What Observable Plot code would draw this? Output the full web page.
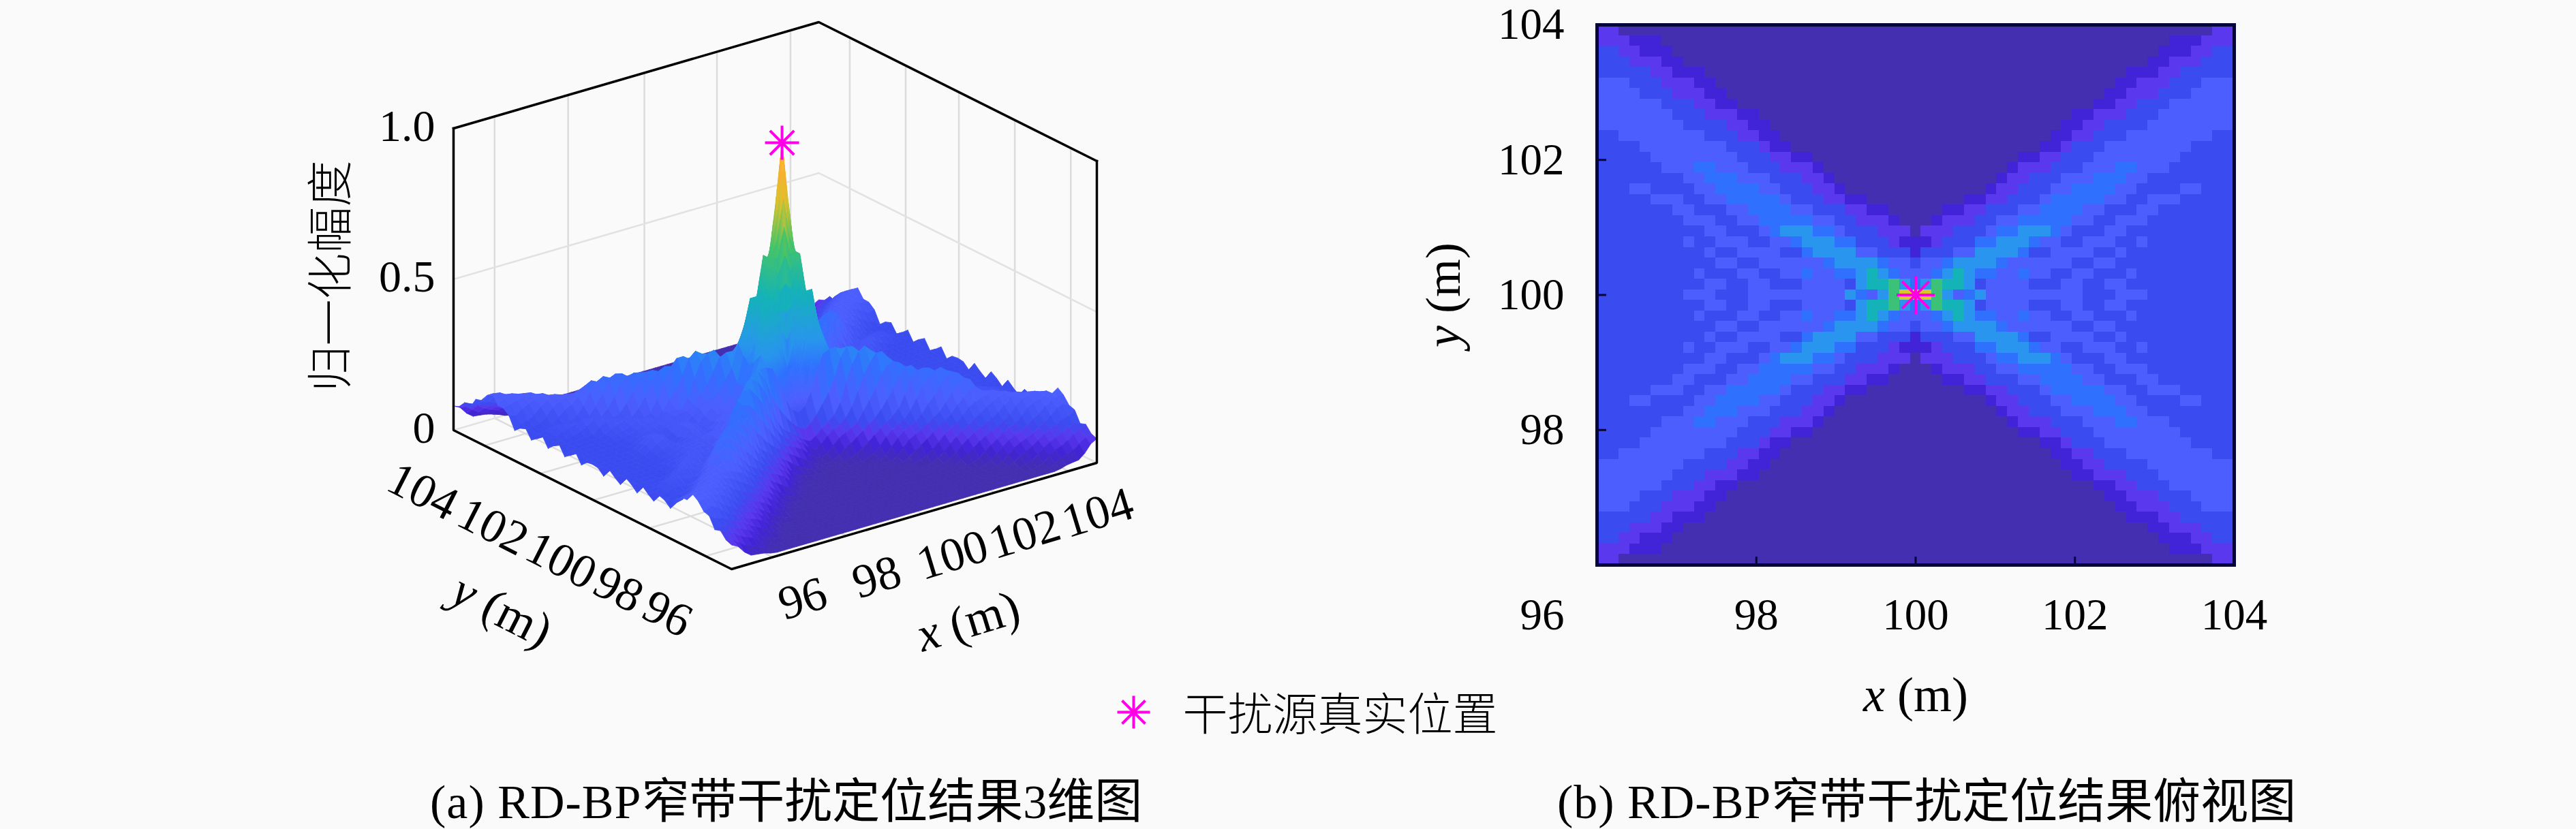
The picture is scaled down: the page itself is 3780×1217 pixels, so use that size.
<!DOCTYPE html>
<html>
<head>
<meta charset="utf-8">
<script src="https://cdn.jsdelivr.net/npm/d3@7"></script>
<script src="https://cdn.jsdelivr.net/npm/@observablehq/plot@0.6"></script>
<style>
  html, body { margin: 0; padding: 0; background: #fafafa; }
  #page { position: relative; width: 3780px; height: 1217px; overflow: hidden; background: #fafafa; }
  #left, #right { position: absolute; top: 0; }
  #left { left: 0; width: 2260px; }
  #right { left: 2060px; width: 1720px; }
  .cap { position: absolute; top: 1138px; white-space: nowrap; color: #000; font: 70px/80px "Liberation Serif", "Noto Sans CJK SC", serif; }
  .cap .lat { letter-spacing: 1px; }
</style>
</head>
<body>
<div id="page">
  <div id="left"></div>
  <div id="right"></div>
  <div class="cap" style="left:631px"><span class="lat">(a) RD-BP</span>窄带干扰定位结果3维图</div>
  <div class="cap" style="left:2285px"><span class="lat">(b) RD-BP</span>窄带干扰定位结果俯视图</div>
</div>
<script>
// Top-left quadrant of the magnitude map (row 0 = y 104, last row = y 100; last column = x 100),
// one character per cell, read from the top view. The map is mirrored about x=100 and y=100.
const quadrantLevels = [
  "220000000000000000000000000000",
  "222111000000000000000000000000",
  "332211100000000000000000000000",
  "333222110000000000000000000000",
  "333332211100000000000000000000",
  "444333222110000000000000000000",
  "444433322211000000000000000000",
  "444444333221100000000000000000",
  "444444433322211000000000000000",
  "444444443333221100000000000000",
  "334444444433322110000000000000",
  "333344444444333211000000000000",
  "333334444444433322110000000000",
  "333333444554443332221000000000",
  "333333334455544433322100000000",
  "333443333445555443332210000000",
  "333334443344555554333221100000",
  "333333344333445555443332211000",
  "333333334443344555554433222100",
  "333333333344333456665543332220",
  "333333334334443344566655333211",
  "333333333343344443356666443331",
  "333333333334433444444566665443",
  "333333333433344334454455676544",
  "333333333344334433344443677865",
  "33333333444333444444444654689A"
];
// height of each level, and the colour shown at that height
const levelHeights = [0.012, 0.05, 0.08, 0.11, 0.17, 0.26, 0.34, 0.5, 0.63, 0.8, 1];
const colorDomain = [0.012, 0.05, 0.08, 0.11, 0.17, 0.26, 0.34, 0.5, 0.66, 0.8, 0.9, 1];
const colorRange = ["#432fb0", "#4123d8", "#5a38ee", "#3a4cf0", "#4d5eff", "#3070ff", "#2a95ee", "#14b3b8", "#45c46a", "#dcc22c", "#fbae32", "#f5c52f"];
// ripple of the surface along the x=96 / x=104 edges, rows y=104 to y=100
const edgeRipple = [0, 0, 0.007, -0.007, 0.014, -0.01, 0, 0.014, -0.014, 0, 0.014, -0.01, 0.007, 0.014, -0.014, 0, 0.017, -0.014, 0.004, 0.017, -0.014, 0, 0.017, -0.014, 0.004, 0.007];

const peakX3d = 100.15;
const xGrid3d = [96.9, 98.51, 100.18, 101.77, 103.38];
const yGrid3d = [103.11, 101.5, 99.97, 98.36, 96.75];
const xTickPos3d = [96.9, 98.52, 100.18, 101.76, 103.36];
const xTickLabels3d = ["96", "98", "100", "102", "104"];
const yTickPos3d = [104, 101.98, 100.02, 98.37, 96.96];
const yTickLabels3d = ["104", "102", "100", "98", "96"];
const zTicks3d = [0, 0.5, 1];
const zTickLabels3d = ["0", "0.5", "1.0"];
const zTitle = "归一化幅度";
const legendLabel = "干扰源真实位置";
const heatTicksX = [98, 100, 102, 104];
const heatTicksY = [98, 100, 102, 104];
const heatInnerTicks = [98, 100, 102];
const xTitle = "x (m)";
const yTitle = "y (m)";

const SERIF = '"Liberation Serif", serif';
const CJK = '"Noto Sans CJK SC", sans-serif';
const MAGENTA = "#ff00e6";

// level grid, mirrored
const NC = 59, NR = 51;
const levelAt = (r, c) => {
  const row = quadrantLevels[r <= 25 ? r : 50 - r];
  return parseInt(row[c <= 29 ? c : 58 - c], 16);
};
const Z = d3.range(NR).map(r => d3.range(NC).map(c => levelHeights[levelAt(r, c)]));

// the surface of the 3D view is shaded from the same map, softened away from the peak
const soften = M => M.map((row, r) => row.map((z, c) => {
  let s = 0, w = 0;
  for (let i = -1; i <= 1; ++i) for (let j = -1; j <= 1; ++j) {
    const rr = r + i, cc = c + j;
    if (rr < 0 || rr >= NR || cc < 0 || cc >= NC) continue;
    const k = (2 - Math.abs(i)) * (2 - Math.abs(j));
    s += M[rr][cc] * k; w += k;
  }
  return s / w;
}));
const Zs = soften(Z);
const Z3 = Zs.map((row, r) => row.map((z, c) => {
  const keep = Math.abs(c - 29) <= 4 && Math.abs(r - 25) <= 1;
  const base = keep ? Z[r][c] : z;
  return (c === 0 || c === NC - 1) ? base + edgeRipple[r <= 25 ? r : 50 - r] : base;
}));

// 8-armed star of the peak marker
const starSymbol = {
  draw(ctx, size) {
    const R = Math.sqrt(size / Math.PI), k = R * Math.SQRT1_2;
    ctx.moveTo(-R, 0); ctx.lineTo(R, 0);
    ctx.moveTo(0, -R); ctx.lineTo(0, R);
    ctx.moveTo(-k, -k); ctx.lineTo(k, k);
    ctx.moveTo(-k, k); ctx.lineTo(k, -k);
  }
};
const colorScale = { type: "linear", domain: colorDomain, range: colorRange };

// ------- 3D view: orthographic projection of (x, y, z)
const px = (x, y) => 1073 + (x - 96) * 67 - (y - 96) * 51;
const py = (x, y, z) => 835 - (x - 96) * 19.5 - (y - 96) * 25.5 - z * 443;
const P = (x, y, z) => ({ X: px(x, y), Y: py(x, y, z) });
const xOf = c => c <= 29 ? 96 + c / 29 * (peakX3d - 96) : peakX3d + (c - 29) / 29 * (104 - peakX3d);
const yOf = r => 104 - r * 8 / 50;

// surface quads, with the steep part around the peak finely shaded; painter's order, far first
const quads = [];
function addQuad(x0, x1, y0, y1, z00, z10, z01, z11) {
  quads.push({
    depth: 0.607 * (x0 + x1) / 2 + 0.795 * (y0 + y1) / 2,
    v: (z00 + z10 + z01 + z11) / 4,
    pts: [P(x0, y0, z00), P(x1, y0, z10), P(x1, y1, z11), P(x0, y1, z01)]
  });
}
for (let r = 0; r < NR - 1; ++r) for (let c = 0; c < NC - 1; ++c) {
  const a = Z3[r][c], b = Z3[r][c + 1], d = Z3[r + 1][c], e = Z3[r + 1][c + 1];
  const x0 = xOf(c), x1 = xOf(c + 1), y0 = yOf(r), y1 = yOf(r + 1);
  const n = (Math.abs(c - 28.5) < 5 && Math.abs(r - 24.5) < 3) ? 8 : 1;
  for (let i = 0; i < n; ++i) for (let j = 0; j < n; ++j) {
    const s0 = i / n, s1 = (i + 1) / n, t0 = j / n, t1 = (j + 1) / n;
    const f = (s, t) => a * (1 - s) * (1 - t) + b * s * (1 - t) + d * (1 - s) * t + e * s * t;
    addQuad(x0 + (x1 - x0) * s0, x0 + (x1 - x0) * s1, y0 + (y1 - y0) * t0, y0 + (y1 - y0) * t1,
      f(s0, t0), f(s1, t0), f(s0, t1), f(s1, t1));
  }
}
quads.sort((p, q) => q.depth - p.depth);
const surfacePts = [];
quads.forEach((q, id) => {
  [...q.pts, q.pts[0]].forEach(p => surfacePts.push({ id, X: p.X, Y: p.Y, v: q.v }));
});

const polyline = (list, opts) => Plot.line(list.map(a => P(...a)), { x: "X", y: "Y", stroke: "#000", strokeWidth: 3.5, strokeLinejoin: "miter", strokeLinecap: "square", ...opts });
const GRID = "#dcdcdc";
const gridMarks = [
  ...xGrid3d.map(x => polyline([[x, 96, 0], [x, 104, 0], [x, 104, 1]], { stroke: GRID, strokeWidth: 2.5 })),
  ...yGrid3d.map(y => polyline([[96, y, 0], [104, y, 0], [104, y, 1]], { stroke: GRID, strokeWidth: 2.5 })),
  polyline([[96, 104, 0.5], [104, 104, 0.5], [104, 96, 0.5]], { stroke: "#e2e2e2", strokeWidth: 2.5 }),
  polyline([[96, 104, 0], [104, 104, 0], [104, 96, 0]], { stroke: "#e2e2e2", strokeWidth: 2.5 })
];

const W1 = 2260, H = 1130;
const left = Plot.plot({
  width: W1, height: H, margin: 0,
  x: { domain: [0, W1], range: [0, W1], axis: null },
  y: { domain: [0, H], range: [0, H], axis: null },
  color: colorScale,
  style: { background: "transparent", maxWidth: "none", fontFamily: SERIF, fontSize: "63px", color: "#000" },
  marks: [
    ...gridMarks,
    polyline([[96, 104, 1], [104, 104, 1], [104, 96, 1]]),
    Plot.line(surfacePts, { x: "X", y: "Y", z: "id", fill: "v", stroke: "v", strokeWidth: 0.8, curve: "linear" }),
    polyline([[96, 104, 1], [96, 104, 0], [96, 96, 0], [104, 96, 0], [104, 96, 1]]),
    Plot.dot([P(peakX3d, 100, 1)], { x: "X", y: "Y", r: 25, symbol: starSymbol, stroke: MAGENTA, strokeWidth: 4, fill: "none" }),
    // x tick labels
    Plot.text(xTickLabels3d, { x: (d, i) => px(xTickPos3d[i], 96) + 44, y: (d, i) => py(xTickPos3d[i], 96, 0) + 61, text: d => d, rotate: -17, fontSize: 70, fontFamily: SERIF }),
    // y tick labels
    Plot.text(yTickLabels3d, { x: (d, i) => px(96, yTickPos3d[i]) - 45, y: (d, i) => py(96, yTickPos3d[i], 0) + 90, text: d => d, rotate: 27, fontSize: 70, fontFamily: SERIF }),
    // z tick labels
    Plot.text(zTickLabels3d, { x: () => px(96, 104) - 27, y: (d, i) => py(96, 104, zTicks3d[i]) - 3, text: d => d, textAnchor: "end", fontSize: 66, fontFamily: SERIF }),
    // axis titles
    Plot.text([xTitle], { x: () => 1420, y: () => 912, text: d => d, rotate: -17, fontSize: 72, fontFamily: SERIF }),
    Plot.text([yTitle], { x: () => 736, y: () => 896, text: d => d, rotate: 27, fontSize: 72, fontFamily: SERIF }),
    Plot.text([zTitle], { x: () => 487, y: () => 405, text: d => d, rotate: -90, fontSize: 68, fontFamily: CJK, fontWeight: 300 }),
    // legend
    Plot.dot([legendLabel], { x: () => 1663, y: () => 1045, r: 24, symbol: starSymbol, stroke: MAGENTA, strokeWidth: 4, fill: "none" }),
    Plot.text([legendLabel], { x: () => 1735, y: () => 1050, text: d => d, textAnchor: "start", fontSize: 66, fontFamily: CJK, fontWeight: 300 })
  ]
});
document.getElementById("left").appendChild(left);

// ------- top view
const cells = [];
Z.forEach((row, r) => row.forEach((z, c) => cells.push({
  x1: 96 + c * 8 / NC, x2: 96 + (c + 1) * 8 / NC,
  y1: 104 - r * 8 / NR, y2: 104 - (r + 1) * 8 / NR, z
})));
const FRAME = "#05053a";
const right = Plot.plot({
  width: 1720, height: H,
  marginLeft: 283, marginRight: 502, marginTop: 36, marginBottom: 301,
  x: { domain: [96, 104], label: null },
  y: { domain: [96, 104], label: null },
  color: colorScale,
  style: { background: "transparent", maxWidth: "none", fontFamily: SERIF, fontSize: "65px", color: "#000" },
  marks: [
    Plot.rect(cells, { x1: "x1", x2: "x2", y1: "y1", y2: "y2", fill: "z", shapeRendering: "crispEdges" }),
    Plot.ruleY(heatInnerTicks, { x1: 96, x2: 96.12, stroke: FRAME, strokeWidth: 3 }),
    Plot.ruleX(heatInnerTicks, { y1: 96, y2: 96.12, stroke: FRAME, strokeWidth: 3 }),
    Plot.frame({ stroke: FRAME, strokeWidth: 5 }),
    Plot.axisX({ ticks: heatTicksX, tickSize: 0, tickPadding: 48, label: null, tickFormat: d3.format("d") }),
    Plot.axisY({ ticks: heatTicksY, tickSize: 0, tickPadding: 48, label: null, tickFormat: d3.format("d") }),
    Plot.text(["96"], { x: () => 95.59, y: () => 95.26, text: d => d, textAnchor: "end", fontSize: 65 }),
    Plot.dot([[100, 100]], { x: d => d[0], y: d => d[1], r: 28, symbol: starSymbol, stroke: MAGENTA, strokeWidth: 4, fill: "none" }),
    Plot.text([xTitle], { x: () => 100, y: () => 94.07, text: d => d, fontSize: 72 }),
    Plot.text([yTitle], { x: () => 94.08, y: () => 100, text: d => d, rotate: -90, fontSize: 72 })
  ]
});
document.getElementById("right").appendChild(right);

// the variable letter of each axis title is set in italics, inside the same text element
document.querySelectorAll("svg text").forEach(t => {
  if (t.children.length <= 1 && /^[xy] \(m\)$/.test(t.textContent)) {
    const host = t.querySelector("tspan") || t;
    const s = host.textContent;
    host.textContent = "";
    const i = document.createElementNS("http://www.w3.org/2000/svg", "tspan");
    i.setAttribute("font-style", "italic");
    i.textContent = s[0];
    host.appendChild(i);
    host.appendChild(document.createTextNode(s.slice(1)));
  }
});
</script>
</body>
</html>
